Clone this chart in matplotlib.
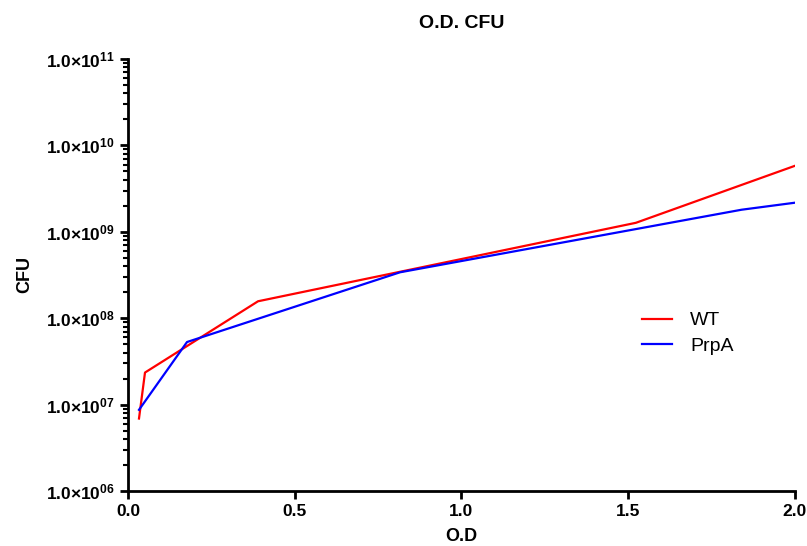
import matplotlib.pyplot as plt
from matplotlib.ticker import LogLocator, FixedLocator, NullFormatter, FuncFormatter
import numpy as np

plt.rcParams['font.family'] = ['Liberation Sans', 'DejaVu Sans']
plt.rcParams['mathtext.fontset'] = 'custom'
plt.rcParams['mathtext.rm'] = 'Liberation Sans'
plt.rcParams['mathtext.bf'] = 'Liberation Sans:bold'

# data
wt_od = [0.033, 0.051, 0.39, 1.523, 2.0]
wt_cfu = [6.9e6, 2.35e7, 1.57e8, 1.27e9, 5.8e9]
prpa_od = [0.033, 0.177, 0.816, 1.84, 2.0]
prpa_cfu = [8.7e6, 5.3e7, 3.4e8, 1.8e9, 2.17e9]
x_ticks = [0.0, 0.5, 1.0, 1.5, 2.0]

fig = plt.figure(figsize=(8.07, 5.46), dpi=100)
ax = fig.add_axes([0.1586, 0.1007, 0.8264, 0.7913])

ax.plot(wt_od, wt_cfu, color='#ff0000', lw=1.6, label='WT')
ax.plot(prpa_od, prpa_cfu, color='#0000ff', lw=1.6, label='PrpA')

ax.set_yscale('log')
ax.set_ylim(1e6, 1e11)
ax.set_xlim(0, 2.0)

ax.xaxis.set_major_locator(FixedLocator(x_ticks))
ax.xaxis.set_major_formatter(FuncFormatter(lambda v, p: '%.1f' % v))
ax.yaxis.set_major_locator(LogLocator(base=10, numticks=10))
ax.yaxis.set_minor_locator(LogLocator(base=10, subs=np.arange(2, 10), numticks=20))
ax.yaxis.set_minor_formatter(NullFormatter())

def fmt(v, p):
    e = int(round(np.log10(v)))
    return r'$\mathbf{1.0{\times}10^{%02d}}$' % e

ax.yaxis.set_major_formatter(FuncFormatter(fmt))

for s in ['top', 'right']:
    ax.spines[s].set_visible(False)
for s in ['left', 'bottom']:
    ax.spines[s].set_linewidth(2)

ax.tick_params(axis='both', which='major', length=6, width=2, labelsize=12.5)
ax.tick_params(axis='y', which='minor', length=3.5, width=1.5)
for lab in ax.get_xticklabels():
    lab.set_fontweight('bold')

ax.set_title('O.D. CFU', fontsize=14, fontweight='bold', pad=22)
ax.set_xlabel('O.D', fontsize=13, fontweight='bold', labelpad=6)
ax.set_ylabel('CFU', fontsize=13, fontweight='bold', labelpad=9)

ax.legend(loc='center left', bbox_to_anchor=(0.745, 0.365), frameon=False,
          fontsize=14, handlelength=1.55, handletextpad=0.9, labelspacing=0.4)

plt.savefig('out.png', dpi=100)
